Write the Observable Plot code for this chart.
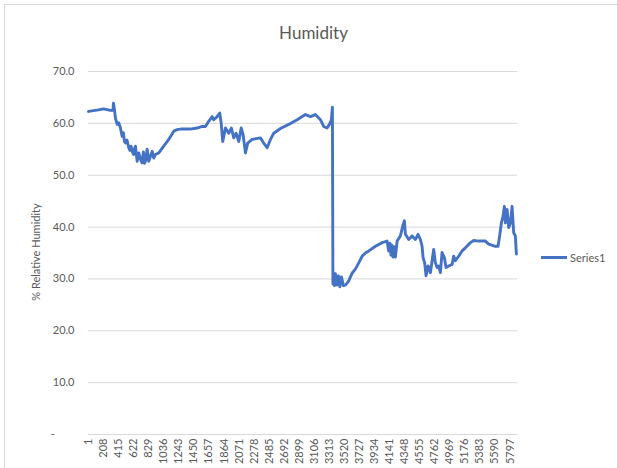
<!DOCTYPE html>
<html>
<head>
<meta charset="utf-8">
<script src="https://cdn.jsdelivr.net/npm/d3@7"></script>
<script src="https://cdn.jsdelivr.net/npm/@observablehq/plot@0.6"></script>
<style>
  html, body { margin: 0; padding: 0; background: #fff; overflow: hidden; }
  #wrap { position: relative; width: 617px; height: 468px; font-family: Lato, "Open Sans", sans-serif; color: #595959; }
  #frame { position: absolute; left: 4px; top: 4px; width: 700px; height: 600px; border: 1px solid #d9d9d9; box-sizing: border-box; }
  #title { position: absolute; left: 0; width: 627px; top: 22px; text-align: center; font-size: 17px; color: #595959; }
  #ylabel { position: absolute; left: 35px; top: 252px; transform: translate(-50%, -50%) rotate(-90deg); font-size: 11px; white-space: nowrap; }
  #legend { position: absolute; left: 541px; top: 251px; font-size: 11px; display: flex; align-items: center; }
  #legend .sw { width: 26px; height: 3px; background: #4472C4; margin-right: 3px; }
  #chart { position: absolute; left: 0; top: 0; }
</style>
</head>
<body>
<div id="wrap">
  <div id="frame"></div>
  <div id="chart"></div>
  <div id="title">Humidity</div>
  <div id="ylabel">% Relative Humidity</div>
  <div id="legend"><div class="sw"></div><span>Series1</span></div>
</div>
<script>
// Reading index (category number) of each traced point
const readingIndex = [1,137,206,302,337,344,357,371,395,417,440,463,480,495,509,530,554,570,585,601,620,635,646,670,692,715,738,755,770,784,807,829,876,898,921,967,1035,1104,1173,
  1220,1265,1403,1495,1563,1609,1654,1701,1723,1770,1805,1825,1847,1884,1929,1966,1998,2031,2067,2100,2127,2159,2190,2251,2365,
  2410,2457,2503,2548,2640,2754,2870,2984,3053,3121,3190,3235,3282,3314,3341,3355,3362,
  3369,3383,3396,3419,3438,3458,3479,3506,3534,3557,3579,3603,3630,3671,3717,3764,3809,3855,3947,4039,4107,4129,4146,4160,4173,4187,4208,4221,4245,4290,4322,4345,4359,
  4404,4451,4496,4533,4565,4588,4602,4624,4643,4671,4703,4748,4771,4795,4817,4840,4863,4895,4918,4954,5001,5023,5046,5092,5138,5184,5253,5298,5367,5459,5505,5596,5633,5655,5679,5702,5720,5734,5757,5780,5803,5826,5848,5871,5885];
// % relative humidity at each traced point
const humidity = [62.3,62.6,62.8,62.5,62.5,63.9,62.7,61.0,59.8,60.1,59.1,57.5,58.2,56.5,56.2,56.8,55.3,54.8,55.6,54.6,54.0,55.2,55.6,52.7,54.3,53.1,52.4,54.5,52.3,52.7,55.0,52.7,54.6,53.3,54.0,54.3,55.6,56.9,58.5,
  58.8,58.9,58.9,59.1,59.4,59.4,60.4,61.3,60.7,61.3,62.0,60.1,56.5,59.1,58.1,59.1,57.2,58.1,56.5,59.1,57.8,54.3,56.2,56.9,57.2,
  56.2,55.3,56.9,58.1,59.0,59.8,60.7,61.7,61.3,61.7,60.7,59.4,59.1,59.8,60.7,63.1,29.0,
  31.2,28.7,31.0,28.8,30.6,28.5,30.4,28.7,28.8,29.2,29.6,30.4,31.2,31.9,33.1,34.4,35.0,35.4,36.3,37.0,37.3,35.4,36.9,34.6,36.5,34.2,36.2,34.2,37.3,38.3,40.2,41.2,38.6,
  37.6,38.3,37.6,38.6,37.6,36.3,34.1,33.1,30.6,32.5,31.2,35.7,33.1,32.2,32.5,31.2,35.1,34.1,32.2,32.5,32.8,34.4,33.5,34.4,35.4,36.0,37.0,37.4,37.3,37.3,36.7,36.3,36.3,38.3,40.8,42.1,44.0,40.8,43.4,39.9,40.8,44.0,38.9,38.3,34.8];
// Category-axis labels (every 207th reading)
const xTickLabels = [1,208,415,622,829,1036,1243,1450,1657,1864,2071,2278,2485,2692,2899,3106,3313,3520,3727,3934,4141,4348,4555,4762,4969,5176,5383,5590,5797];
const yTicks = [0,10,20,30,40,50,60,70];
const totalReadings = 5900;

const data = readingIndex.map((i, k) => ({i, v: humidity[k]}));

const chart = Plot.plot({
  width: 617,
  height: 468,
  marginLeft: 88,
  marginRight: 100,
  marginTop: 71,
  marginBottom: 34,
  style: {fontFamily: "Lato, 'Open Sans', sans-serif", fontSize: "11px", color: "#595959", background: "transparent", overflow: "visible"},
  x: {type: "linear", domain: [0.5, totalReadings + 0.5]},
  y: {domain: [0, 70]},
  marks: [
    Plot.gridY(yTicks, {stroke: "#d9d9d9", strokeOpacity: 1, strokeWidth: 1}),
    Plot.axisY(yTicks, {tickSize: 0, tickPadding: 14, label: null,
      tickFormat: d => d === 0 ? "-\u00a0\u00a0\u00a0\u00a0\u00a0\u00a0\u00a0" : d.toFixed(1)}),
    Plot.axisX(xTickLabels, {tickSize: 0, tickPadding: 4, tickRotate: -90, label: null, tickFormat: d => String(d)}),
    Plot.line(data, {x: "i", y: "v", stroke: "#4472C4", strokeWidth: 2.9, strokeLinejoin: "round", strokeLinecap: "round"})
  ]
});
document.getElementById("chart").appendChild(chart);
</script>
</body>
</html>
